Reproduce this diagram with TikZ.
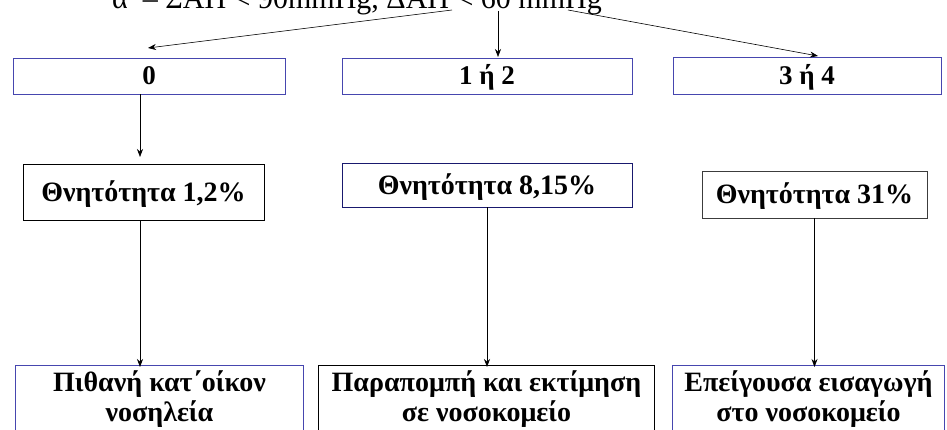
\documentclass[tikz,border=0pt]{standalone}
\usepackage{fontspec}
\setmainfont{Liberation Serif}
\usetikzlibrary{arrows.meta}
\definecolor{bblue}{RGB}{70,70,175}
\definecolor{navyb}{RGB}{25,25,110}
\definecolor{grayb}{RGB}{60,60,60}
\begin{document}
\begin{tikzpicture}[x=1pt,y=-1pt,
  box/.style={draw=#1, line width=0.9pt, inner sep=0pt, align=center,
    text height=18pt, text depth=0pt,
    font=\bfseries\fontsize{27}{34}\selectfont},
  box/.default=bblue,
  midbox/.style={box=#1, text height=18.5pt, font=\bfseries\fontsize{28}{34}\selectfont},
  botbox/.style={draw=#1, line width=0.9pt, inner xsep=0pt, inner ysep=0pt, align=center,
    text height=56pt, text depth=30pt,
    anchor=north west, font=\bfseries\fontsize{28}{30}\selectfont},
  arr/.style={-{Stealth[length=8pt,width=6pt]}, line width=0.6pt},
  ln/.style={line width=0.6pt}]
\useasboundingbox (0,0) rectangle (947,430);
\clip (0,0) rectangle (947,430);

% top (clipped) text
\node[anchor=base west, inner sep=0pt, font=\fontsize{30}{34}\selectfont] (head) at (112,9)
  {α\ \ – ΣΑΠ < 90mmHg, ΔΑΠ < 60 mmHg};
\coordinate (s0) at (452,10);
\coordinate (s1) at (498,11);
\coordinate (s2) at (568,10);

% first row
\node[box, minimum width=272pt, minimum height=36pt] (b0) at (149,76) {0};
\node[box, minimum width=290pt, minimum height=36pt] (b1) at (487,76) {1 ή 2};
\node[box, minimum width=268pt, minimum height=37pt] (b2) at (807,75.5) {3 ή 4};

% second row
\node[midbox=black, minimum width=241pt, minimum height=56pt] (m0) at (143.5,192) {Θνητότητα 1,2\%};
\node[midbox=navyb, minimum width=290pt, minimum height=44pt] (m1) at (487,185) {Θνητότητα 8,15\%};
\node[midbox=grayb, minimum width=225pt, minimum height=47pt] (m2) at (814.5,194.5) {Θνητότητα 31\%};

% third row
\node[botbox=bblue, minimum width=288pt] (d0) at (15,365) {Πιθανή κατ΄οίκον\\νοσηλεία};
\node[botbox=black, minimum width=336pt] (d1) at (318,365) {Παραπομπή και εκτίμηση\\σε νοσοκομείο};
\node[botbox=bblue, minimum width=272pt] (d2) at (672,365) {Επείγουσα εισαγωγή\\στο νοσοκομείο};

% arrow tips
\coordinate (t0) at (148,48);
\coordinate (t1) at (498,57);
\coordinate (t2) at (818,56);

% connectors from the heading
\draw[arr] (s0) -- (t0);
\draw[arr] (s1) -- (t1);
\draw[arr] (s2) -- (t2);

% vertical connectors
\draw[arr] (b0.south -| 140,0) -- (140,157);
\draw[arr] (m0.south -| 140,0) -- ([yshift=-2pt]d0.north -| 140,0);
\draw[arr] (m1.south) -- ([yshift=-2pt]d1.north -| m1.south);
\draw[arr] (m2.south) -- ([yshift=-2pt]d2.north -| m2.south);
\end{tikzpicture}
\end{document}
